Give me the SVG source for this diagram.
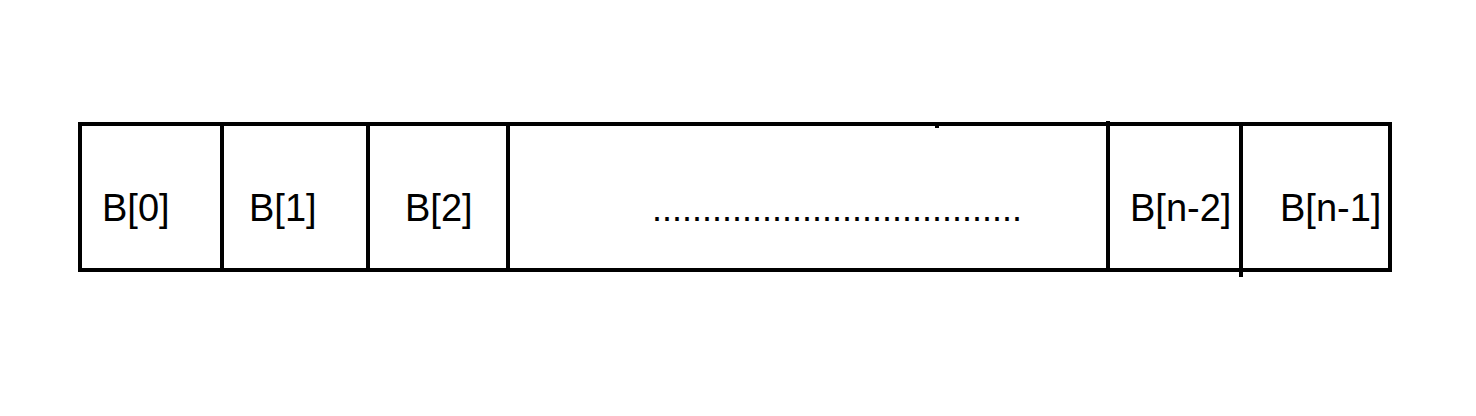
<svg xmlns="http://www.w3.org/2000/svg" width="1476" height="416" viewBox="0 0 1476 416">
<style>
.ln{stroke:#000;stroke-width:4;fill:none}
.t{font-family:"Liberation Sans",Arial,sans-serif;font-size:38px;fill:#000}
.d{font-family:"Liberation Sans",Arial,sans-serif;font-size:36px;fill:#000}
</style>
<rect width="1476" height="416" fill="#fff"/>
<g id="connectors">
<line class="ln" x1="937" y1="124" x2="937" y2="128"/>
<line class="ln" x1="1108" y1="121" x2="1108" y2="124"/>
<line class="ln" x1="1241" y1="270" x2="1241" y2="277"/>
</g>
<g id="array">
<rect class="ln" x="80" y="124" width="1310" height="146"/>
</g>
<g id="cell0"><line class="ln" x1="222" y1="124" x2="222" y2="270"/><text class="t" x="102" y="221">B[0]</text></g>
<g id="cell1"><line class="ln" x1="368" y1="124" x2="368" y2="271"/><text class="t" x="249" y="221">B[1]</text></g>
<g id="cell2"><line class="ln" x1="508" y1="124" x2="508" y2="270"/><text class="t" x="405" y="221">B[2]</text></g>
<g id="cellDots"><line class="ln" x1="1108" y1="124" x2="1108" y2="270"/><text class="d" x="652" y="221">.....................................</text></g>
<g id="cellN2"><line class="ln" x1="1241" y1="124" x2="1241" y2="270"/><text class="t" x="1130" y="221">B[n-2]</text></g>
<g id="cellN1"><text class="t" x="1280" y="221">B[n-1]</text></g>
</svg>
